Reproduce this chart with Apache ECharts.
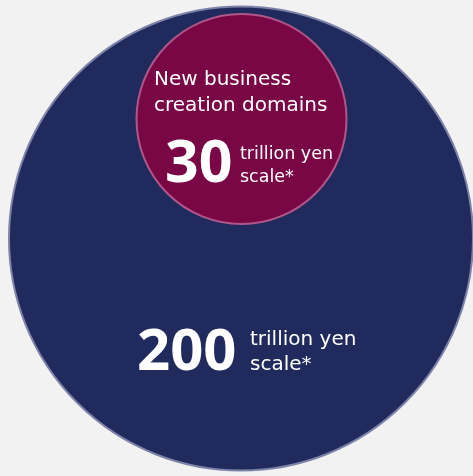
<!DOCTYPE html>
<html><head><meta charset="utf-8">
<script src="https://cdn.jsdelivr.net/npm/echarts@6/dist/echarts.min.js"></script>
<style>html,body{margin:0;padding:0;background:#f2f2f2}#c{width:473px;height:476px}</style>
</head><body><div id="c"></div>
<script>
const categories = ['Total market', 'New business creation domains'];
const values = [200, 30];
const unitLines = ['trillion yen', 'scale*'];
const titleLines = ['New business', 'creation domains'];

const chart = echarts.init(document.getElementById('c'), null, {renderer: 'canvas'});
const F = '"DejaVu Sans", sans-serif';
const FB = '"Noto Sans", sans-serif';
function txt(text, x, y, size, weight, fam) {
  return {type: 'text', z: 100, silent: true, style: {text: text, x: x, y: y, fill: '#ffffff',
    font: (weight || 'normal') + ' ' + size + 'px ' + (fam || F), textAlign: 'left', textVerticalAlign: 'middle', verticalAlign: 'middle'}};
}
chart.setOption({
  backgroundColor: '#f2f2f2',
  animation: false,
  series: [
    {type: 'pie', name: categories[0], center: [241, 238.5], radius: [0, 232], silent: true,
     label: {show: false}, labelLine: {show: false}, z: 1,
     itemStyle: {color: '#212a5c', borderColor: '#7c82a8', borderWidth: 2},
     data: [{name: categories[0], value: values[0]}]},
    {type: 'pie', name: categories[1], center: [241.5, 119], radius: [0, 105], silent: true,
     label: {show: false}, labelLine: {show: false}, z: 2,
     itemStyle: {color: '#790645', borderColor: '#b0578a', borderWidth: 2},
     data: [{name: categories[1], value: values[1]}]}
  ],
  graphic: [
    txt(titleLines[0], 154, 80, 20),
    txt(titleLines[1], 154, 106, 20),
    txt(String(values[1]), 165, 165, 59, 'bold', FB),
    txt(unitLines[0], 240, 154, 17.5),
    txt(unitLines[1], 240, 177, 17.5),
    txt(String(values[0]), 137, 353, 58, 'bold', FB),
    txt(unitLines[0], 250, 340, 20),
    txt(unitLines[1], 250, 365, 20)
  ]
});
</script></body></html>
